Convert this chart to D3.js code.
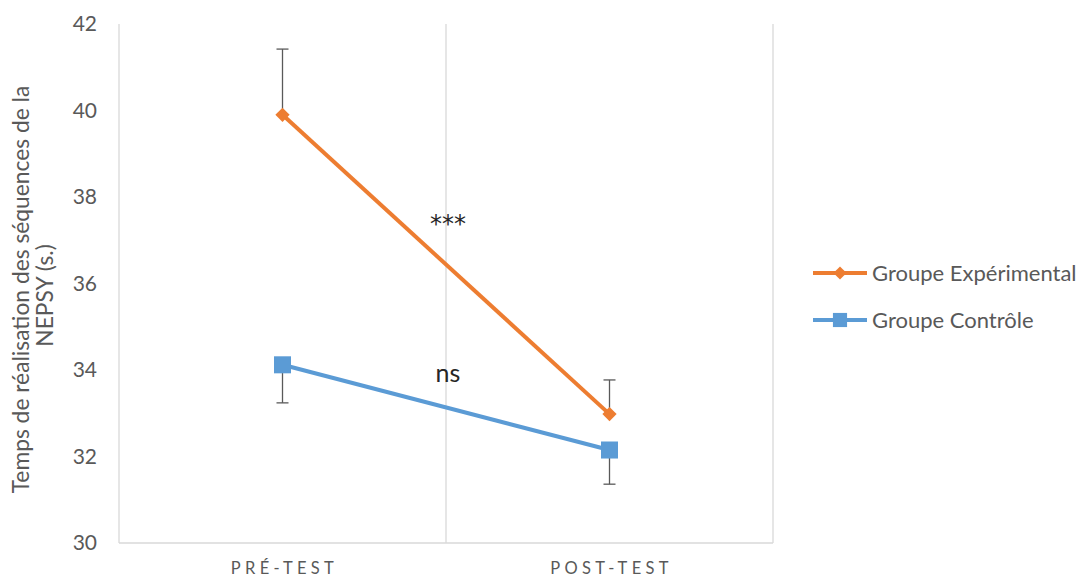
<meta charset="utf-8" />
<script src="https://d3js.org/d3.v7.min.js"></script>
<style>
  body { margin: 0; background: #fff; }
  svg text { font-family: "Lato", "Open Sans", sans-serif; fill: #595959; }
</style>
<svg width="1080" height="577"></svg>
<script>
  var categories = ["PRÉ-TEST", "POST-TEST"];
  var seriesNames = ["Groupe Expérimental", "Groupe Contrôle"];
  var experimental = [39.9, 32.98];
  var experimentalErr = [1.52, 0.79];
  var control = [34.12, 32.15];
  var controlErr = [0.88, 0.79];
  var yTicks = [30, 32, 34, 36, 38, 40, 42];
  var annotations = [{ text: "***", y: 37.2, font: "DejaVu Sans", size: 24 }, { text: "ns", y: 33.72, font: "Lato", size: 25 }];

  var svg = d3.select("svg"),
    margin = { top: 24, right: 307, bottom: 34, left: 119 },
    width = +svg.attr("width") - margin.left - margin.right,
    height = +svg.attr("height") - margin.top - margin.bottom;

  var x = d3.scaleBand().domain(categories).range([0, width]).padding(0);
  var y = d3.scaleLinear().domain([30, 42]).range([height, 0]);

  var g = svg.append("g")
    .attr("transform", "translate(" + margin.left + "," + margin.top + ")");

  // vertical gridlines between categories
  var edges = [0].concat(categories.map(function (c) { return x(c) + x.bandwidth(); }));
  g.selectAll(".vgrid").data(edges).enter().append("line")
    .attr("x1", function (d) { return d; }).attr("x2", function (d) { return d; })
    .attr("y1", 0).attr("y2", height)
    .attr("stroke", "#d9d9d9").attr("stroke-width", 1.3);

  g.append("line").attr("x1", 0).attr("x2", width).attr("y1", height).attr("y2", height)
    .attr("stroke", "#d9d9d9").attr("stroke-width", 1.3);

  // y axis labels
  var yAxis = g.append("g").call(d3.axisLeft(y).tickValues(yTicks).tickSize(0).tickPadding(22));
  yAxis.select(".domain").remove();
  yAxis.selectAll("text").attr("font-size", 21).style("font-family", "Lato, sans-serif").attr("fill", "#595959");

  // x axis labels
  g.selectAll(".xlab").data(categories).enter().append("text")
    .attr("x", function (d) { return x(d) + x.bandwidth() / 2 + 2; })
    .attr("y", height + 31)
    .attr("text-anchor", "middle")
    .attr("font-size", 16.5)
    .attr("letter-spacing", "4.3px")
    .text(function (d) { return d; });

  // y axis title
  var yt = svg.append("text")
    .attr("transform", "translate(29," + (margin.top + height / 2 + 6) + ") rotate(-90)")
    .attr("text-anchor", "middle")
    .attr("font-size", 22.8);
  yt.append("tspan").attr("x", 0).attr("dy", 0).text("Temps de réalisation des séquences de la");
  yt.append("tspan").attr("x", -6).attr("dy", 24).text("NEPSY (s.)");

  var cx = function (c) { return x(c) + x.bandwidth() / 2; };

  function drawSeries(values, errs, color, dir, shape) {
    var data = categories.map(function (c, i) { return { c: c, v: values[i], e: errs[i] }; });
    // error bars
    var eb = g.append("g");
    data.forEach(function (d) {
      var y2 = y(d.v + dir * d.e);
      eb.append("line").attr("x1", cx(d.c)).attr("x2", cx(d.c)).attr("y1", y(d.v)).attr("y2", y2)
        .attr("stroke", "#595959").attr("stroke-width", 1.3);
      eb.append("line").attr("x1", cx(d.c) - 6).attr("x2", cx(d.c) + 6).attr("y1", y2).attr("y2", y2)
        .attr("stroke", "#595959").attr("stroke-width", 1.3);
    });
    g.append("path").datum(data)
      .attr("fill", "none").attr("stroke", color).attr("stroke-width", 4)
      .attr("d", d3.line().x(function (d) { return cx(d.c); }).y(function (d) { return y(d.v); }));
    g.selectAll(null).data(data).enter().append("path")
      .attr("transform", function (d) { return "translate(" + cx(d.c) + "," + y(d.v) + ")"; })
      .attr("d", d3.symbol().type(shape).size(shape === d3.symbolDiamond2 ? 130 : 290)())
      .attr("fill", color);
  }

  drawSeries(experimental, experimentalErr, "#ED7D31", 1, d3.symbolDiamond2);
  drawSeries(control, controlErr, "#5B9BD5", -1, d3.symbolSquare);

  g.selectAll(".ann").data(annotations).enter().append("text")
    .attr("x", width / 2 + 2)
    .attr("y", function (d) { return y(d.y); })
    .attr("text-anchor", "middle")
    .attr("font-size", function (d) { return d.size; })
    .style("font-family", function (d) { return d.font; })
    .style("fill", "#262626")
    .text(function (d) { return d.text; });

  // legend
  var colors = ["#ED7D31", "#5B9BD5"];
  var shapes = [d3.symbolDiamond2, d3.symbolSquare];
  var leg = svg.append("g").attr("transform", "translate(813,273)");
  seriesNames.forEach(function (n, i) {
    var r = leg.append("g").attr("transform", "translate(0," + i * 47 + ")");
    r.append("line").attr("x1", 0).attr("x2", 54).attr("stroke", colors[i]).attr("stroke-width", 4);
    r.append("path").attr("transform", "translate(27,0)")
      .attr("d", d3.symbol().type(shapes[i]).size(i === 0 ? 110 : 200)()).attr("fill", colors[i]);
    r.append("text").attr("x", 59).attr("dy", "0.35em").attr("font-size", 22).text(n);
  });
</script>
